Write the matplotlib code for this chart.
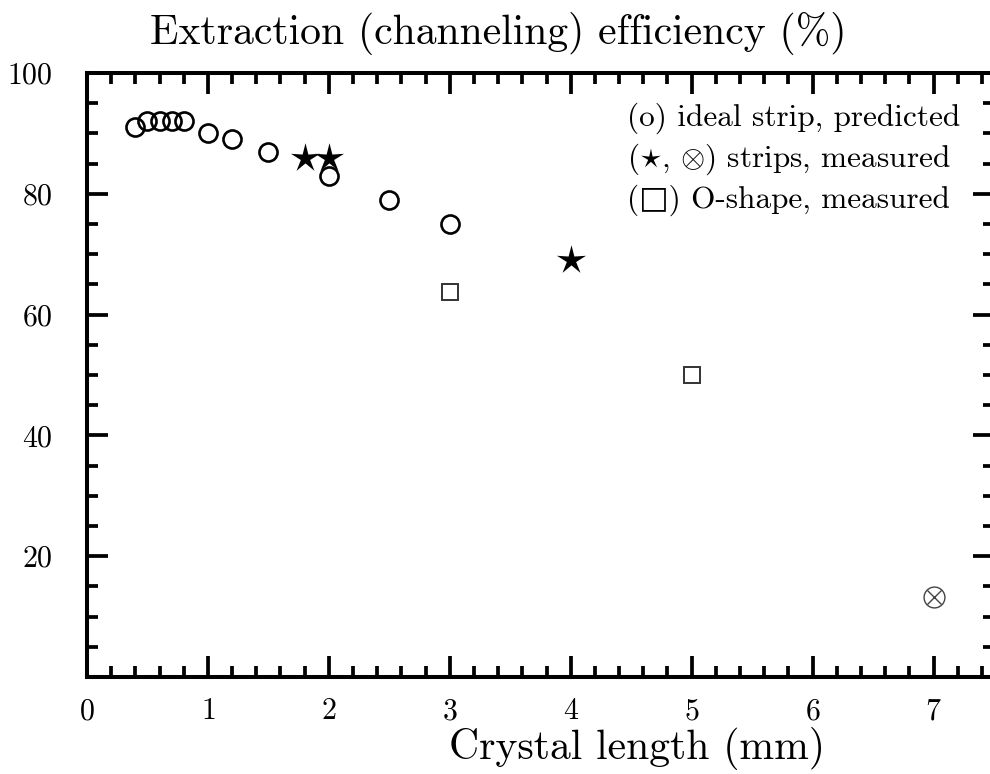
import numpy as np
import matplotlib
matplotlib.use("Agg")
import matplotlib.pyplot as plt
from matplotlib.ticker import MultipleLocator

plt.rcParams['font.family'] = ['cmr10', 'DejaVu Sans']
plt.rcParams['mathtext.fontset'] = 'cm'
plt.rcParams['axes.formatter.use_mathtext'] = True
plt.rcParams['axes.unicode_minus'] = False

# ideal strip, predicted (circles)
ideal_len = [0.4, 0.5, 0.6, 0.7, 0.8, 1.0, 1.2, 1.5, 2.0, 2.5, 3.0]
ideal_eff = [91, 92, 92, 92, 92, 90, 89, 87, 83, 79, 75]

# strips, measured (stars)
strip_len = [1.8, 2.0, 4.0]
strip_eff = [86, 86, 69]

# strip, measured (otimes)
strip2_len = [7.0]
strip2_eff = [13.3]

# O-shape, measured (squares)
oshape_len = [3.0, 5.0]
oshape_eff = [63.7, 50]

legend_lines = [
    "(o) ideal strip, predicted",
    r"($\star$, $\otimes$) strips, measured",
    "(\u25a1) O-shape, measured",
]

# thin-armed five-pointed star, like TeX \star
ang = np.pi / 2 + np.arange(10) * np.pi / 5
rad = np.where(np.arange(10) % 2 == 0, 1.0, 0.32)
star = np.column_stack([rad * np.cos(ang), rad * np.sin(ang)])

fig = plt.figure(figsize=(9.9, 7.74), dpi=100)
ax = fig.add_axes([87/990, 97/774, 907/990, 604/774])

ax.plot(ideal_len, ideal_eff, 'o', ms=13, mfc='none', mec='black', mew=1.9)
ax.plot(strip_len, strip_eff, marker=star, ls='none', ms=22, color='black', mew=0)
ax.plot(oshape_len, oshape_eff, 's', ms=12, mfc='none', mec='#333333', mew=1.4)
ax.plot(strip2_len, strip2_eff, 'o', ms=15, mfc='none', mec='#444444', mew=1.0)
ax.plot(strip2_len, strip2_eff, 'x', ms=10.5, mec='#444444', mew=1.0)

ax.set_xlim(0, 7.5)
ax.set_ylim(0, 100)
ax.xaxis.set_major_locator(MultipleLocator(1))
ax.xaxis.set_minor_locator(MultipleLocator(0.2))
ax.yaxis.set_major_locator(MultipleLocator(20))
ax.yaxis.set_minor_locator(MultipleLocator(5))
ax.set_yticks([20, 40, 60, 80, 100])

for s in ax.spines.values():
    s.set_linewidth(2.9)
ax.tick_params(which='both', direction='in', top=True, right=True, width=2.7)
ax.tick_params(which='major', length=15)
ax.tick_params(which='minor', length=8)
ax.tick_params(axis='x', which='major', pad=15, labelsize=21.5)
ax.tick_params(axis='y', which='major', pad=25, labelsize=21.5)

ax.set_xlabel("Crystal length (mm)", fontsize=30)
ax.xaxis.set_label_coords(0.606, -0.119)
ax.xaxis.label.set_va('center')

ax.text(0.453, 1.066, "Extraction (channeling) efficiency (%)", fontsize=30,
        ha='center', va='center', transform=ax.transAxes)

for i, line in enumerate(legend_lines):
    ax.text(0.595, 0.925 - i * 0.068, line, fontsize=22.5,
            ha='left', va='center', transform=ax.transAxes)

fig.savefig("out.png", dpi=100)
